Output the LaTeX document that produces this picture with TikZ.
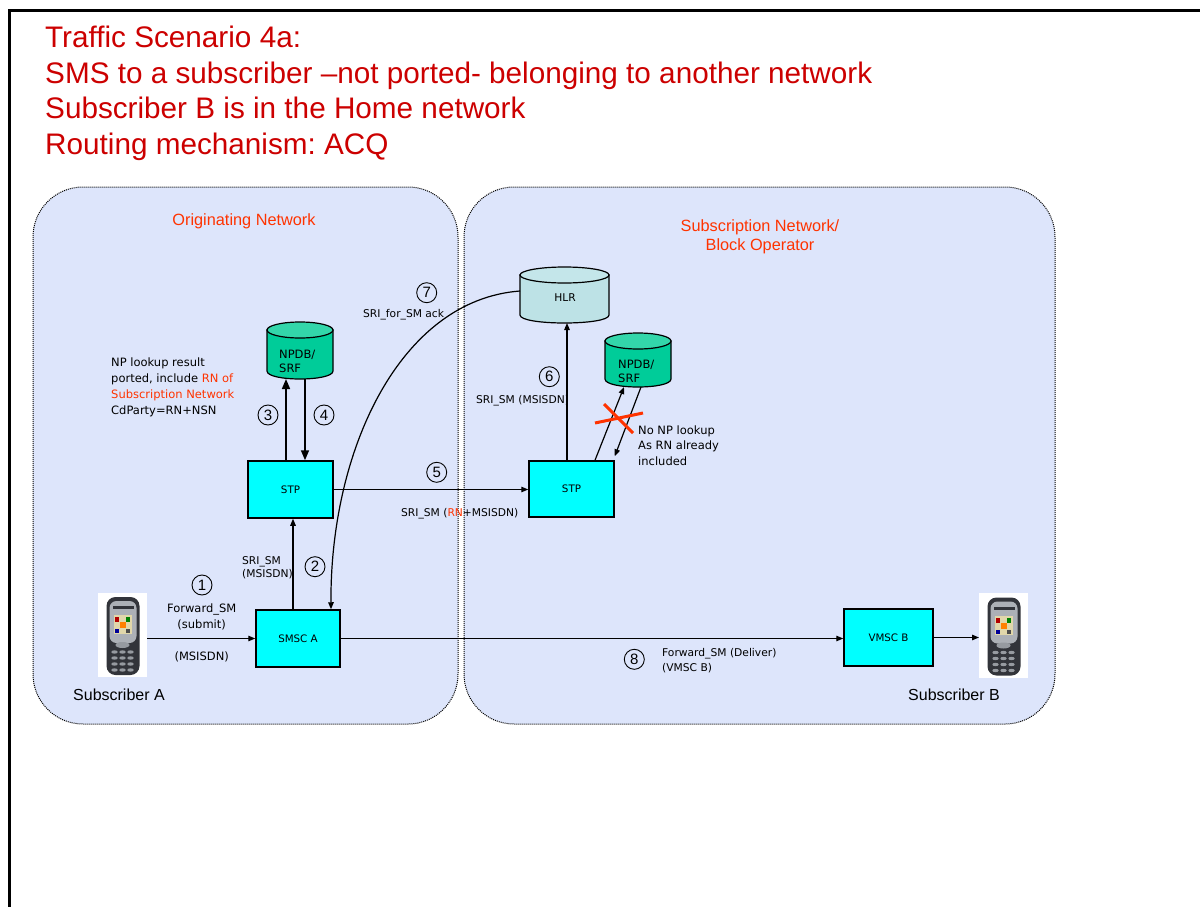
\documentclass[tikz,border=0pt]{standalone}
\usepackage{fontspec}
\setmainfont{Liberation Sans}
\newfontfamily\dvfont{DejaVu Sans}
\usetikzlibrary{arrows.meta}
\frenchspacing
\definecolor{netblue}{RGB}{221,229,251}
\definecolor{titlered}{RGB}{204,0,0}
\definecolor{netred}{RGB}{255,51,0}
\definecolor{boxcyan}{RGB}{0,255,255}
\definecolor{npbody}{RGB}{0,204,153}
\definecolor{nptop}{RGB}{51,214,170}
\definecolor{hlrbody}{RGB}{189,226,230}
\definecolor{hlrtop}{RGB}{196,230,234}
\definecolor{phonedark}{RGB}{50,52,58}
\definecolor{phonesilver}{RGB}{172,176,182}
\definecolor{phonekey}{RGB}{150,154,160}
\definecolor{screenbg}{RGB}{225,215,170}

\newcommand\cyl[7]{%
 \filldraw[fill=#6, line width=1.2pt] (#1,#2+#5) -- (#1,#4-#5) .. controls (#1,#4-#5+1.3333*#5) and (#3,#4-#5+1.3333*#5) .. (#3,#4-#5) -- (#3,#2+#5) -- cycle;
 \filldraw[fill=#7, line width=1.2pt] ({(#1+#3)/2},#2+#5) ellipse[x radius={(#3-#1)/2}, y radius=#5];
}
\newcommand\phonepic[1]{%
 \begin{scope}[shift={(#1)}]
  \fill[phonedark, rounded corners=9pt] (-16,-38) rectangle (17,40);
  \fill[phonesilver, rounded corners=7pt] (-13,-34) rectangle (14,8);
  \fill[phonedark] (-10,-29) rectangle (11,-26);
  \fill[screenbg] (-9,-20) rectangle (9,-1);
  \fill[red!70!black] (-8,-18) rectangle (-4,-13);
  \fill[green!50!black] (3,-18) rectangle (7,-13);
  \fill[orange] (-3,-13) rectangle (3,-7);
  \fill[blue!60!black] (-8,-6) rectangle (-4,-2);
  \fill[black!70] (3,-6) rectangle (7,-2);
  \fill[phonekey] (0,10) ellipse[x radius=7, y radius=3];
  \foreach \kr in {0,1,2,3} \foreach \kc in {-1,0,1}
   \fill[phonekey] (\kc*8,17+\kr*6) ellipse[x radius=3.2, y radius=1.7];
 \end{scope}}

\begin{document}
\begin{tikzpicture}[x=1pt,y=-1pt,
  net/.style={draw, line width=1pt, dash pattern=on 1pt off 1pt, fill=netblue, rounded corners=50pt},
  box/.style={draw, line width=1.5pt, fill=boxcyan, inner sep=0pt, font=\dvfont\fontsize{10.3}{12}\selectfont},
  lab/.style={font=\dvfont\fontsize{11.5}{14}\selectfont, inner sep=0pt, anchor=base west},
  slab/.style={font=\dvfont\fontsize{10.7}{13}\selectfont, inner sep=0pt, anchor=base west},
  ttl/.style={font=\fontsize{29.7}{34}\selectfont, text=titlered, inner sep=0pt, anchor=base west},
  netlab/.style={font=\fontsize{16.3}{19}\selectfont, text=netred, inner sep=0pt, anchor=base},
  sublab/.style={font=\fontsize{16}{19}\selectfont, inner sep=0pt, anchor=base west},
  cnum/.style={circle, draw, line width=0.9pt, minimum size=20pt, inner sep=0pt, font=\fontsize{15}{15}\selectfont},
  arr/.style={line width=1.2pt, -{Triangle[length=7pt,width=5.5pt]}},
  bigarr/.style={line width=1.5pt, -{Triangle[length=10pt,width=8pt]}},
  holder/.style={inner sep=0pt, outer sep=0pt}
]
\useasboundingbox (0,0) rectangle (1200,907);
\fill[white] (0,0) rectangle (1200,907);
% frame
\draw[line width=3pt] (9,907) -- (9,11) -- (1200,11);

% title
\node[ttl] (t1) at (45,47.5) {Traffic Scenario 4a:};
\node[ttl] (t2) at (45,83.2) {SMS to a subscriber –not ported- belonging to another network};
\node[ttl] (t3) at (45,118.9) {Subscriber B is in the Home network};
\node[ttl] (t4) at (45,154.6) {Routing mechanism: ACQ};

% networks
\draw[net] (33,187) rectangle (458,724);
\draw[net] (464,187) rectangle (1055,724);
\node[netlab] (orig) at (244,225) {Originating Network};
\node[netlab] (subn1) at (760,231) {Subscription Network/};
\node[netlab] (subn2) at (760,250) {Block Operator};

% cylinders
\cyl{267}{322}{333}{379}{8}{npbody}{nptop}
\node[holder, minimum width=66pt, minimum height=57pt] (npdbA) at (300,350.5) {};
\node[lab] (npdbAt1) at (279,358) {NPDB/};
\node[lab] (npdbAt2) at (279,372) {SRF};

\cyl{520}{267}{609}{323}{8}{hlrbody}{hlrtop}
\node[holder, minimum width=89pt, minimum height=56pt] (hlr) at (564.5,295) {};
\node[slab, anchor=base] (hlrt) at (565,301) {HLR};

\cyl{605}{333}{671}{387}{8}{npbody}{nptop}
\node[holder, minimum width=66pt, minimum height=54pt] (npdbB) at (638,360) {};
\node[lab] (npdbBt1) at (618,368) {NPDB/};
\node[lab] (npdbBt2) at (618,382) {SRF};

% boxes
\node[box, minimum width=85pt, minimum height=57pt] (stpA) at (290.5,489.5) {STP};
\node[box, minimum width=85pt, minimum height=56pt] (stpB) at (571.5,489) {STP};
\node[box, minimum width=84pt, minimum height=57pt] (smscA) at (298,638.5) {SMSC A};
\node[box, minimum width=89pt, minimum height=57pt] (vmscB) at (888.5,637.5) {VMSC B};

% phones
\node[holder, fill=white, minimum width=49pt, minimum height=84pt] (phoneA) at (122.5,635) {};
\phonepic{122.5,635}
\node[holder, fill=white, minimum width=49pt, minimum height=85pt] (phoneB) at (1003.5,635.5) {};
\phonepic{1003.5,635.5}
\node[sublab] (subA) at (73,700) {Subscriber A};
\node[sublab] (subB) at (908,700) {Subscriber B};

% connectors
\draw[arr] (phoneA.east |- smscA.west) -- (smscA.west);
\draw[arr] ([xshift=-5pt]smscA.north) -- ([xshift=2.5pt]stpA.south);
\draw[bigarr] ([xshift=-4.5pt]stpA.north) -- ([xshift=-14pt]npdbA.south);
\draw[bigarr] ([xshift=5pt]npdbA.south) -- ([xshift=14.5pt]stpA.north);
\draw[arr] (stpA.east) -- (stpA.east -| stpB.west);
\draw[arr] ([xshift=-4.5pt]stpB.north) -- ([xshift=2.5pt]hlr.south);
\draw[arr] ([xshift=23.5pt]stpB.north) -- ([xshift=-14pt]npdbB.south);
\draw[arr] ([xshift=3pt]npdbB.south) -- ([yshift=4pt]stpB.north east);
\draw[arr] ([yshift=4pt]hlr.west) .. controls (400,300) and (330,450) .. ([xshift=33pt]smscA.north);
\draw[arr] (smscA.east) -- (smscA.east -| vmscB.west);
\draw[arr] (vmscB.east) -- (vmscB.east -| phoneB.west);

% red cross
\draw[netred, line width=3pt] (604,404) -- (633,433);
\draw[netred, line width=3pt] (595,423) -- (643,413);

% numbers
\node[cnum] (n1) at (202,585) {1};
\node[cnum] (n2) at (315,566.7) {2};
\node[cnum] (n3) at (268,415) {3};
\node[cnum] (n4) at (324,415) {4};
\node[cnum] (n5) at (436.7,472.3) {5};
\node[cnum] (n6) at (549.3,376.7) {6};
\node[cnum] (n7) at (426.7,292.7) {7};
\node[cnum] (n8) at (634.3,659.3) {8};

% labels
\node[lab] (np1) at (111,366.7) {NP lookup result};
\node[lab] (np2) at (111,382.7) {ported, include \textcolor{netred}{RN of}};
\node[lab, text=netred] (np3) at (111,398.7) {Subscription Network};
\node[lab] (np4) at (111,414.7) {CdParty=RN+NSN};

\node[slab] (l7) at (363,317.7) {SRI\_for\_SM ack};
\node[slab] (l5) at (401,516.7) {SRI\_SM (\textcolor{netred}{RN}+MSISDN)};
\node[slab] (l6) at (476,403) {SRI\_SM (MSISDN)};

\node[lab] (nn1) at (638,434) {No NP lookup};
\node[lab] (nn2) at (638,449.5) {As RN already};
\node[lab] (nn3) at (638,465) {included};

\node[slab] (l2a) at (242,564) {SRI\_SM};
\node[slab] (l2b) at (242,577.5) {(MSISDN)};

\node[lab, anchor=base] (l1a) at (201.7,612.7) {Forward\_SM};
\node[lab, anchor=base] (l1b) at (201.7,628.3) {(submit)};
\node[lab, anchor=base] (l1c) at (201.7,660.7) {(MSISDN)};

\node[slab] (l8a) at (662,656.7) {Forward\_SM (Deliver)};
\node[slab] (l8b) at (662,671) {(VMSC B)};
\end{tikzpicture}
\end{document}
